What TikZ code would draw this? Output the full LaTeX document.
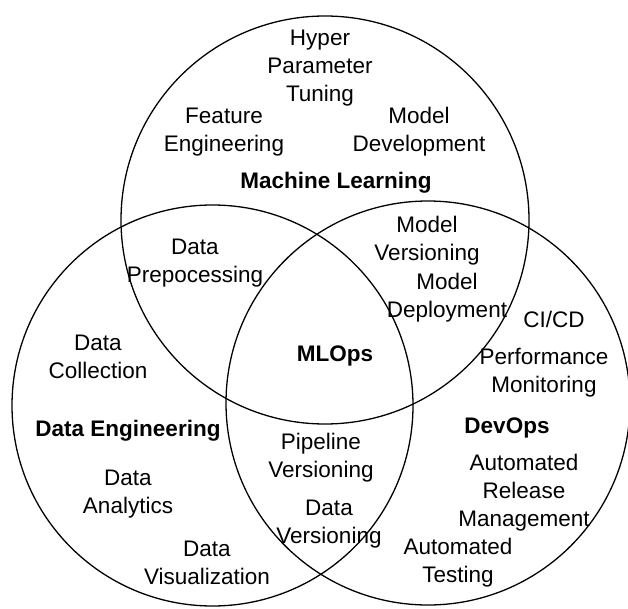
\documentclass[tikz,border=0pt]{standalone}
\usepackage{fontspec}
\setmainfont{Liberation Sans}
\begin{document}
\begin{tikzpicture}[x=1pt,y=-1pt,
  lbl/.style={font=\fontsize{22.5}{28}\selectfont, align=center, inner sep=0pt},
  ttl/.style={font=\fontsize{22.5}{28}\selectfont\bfseries, align=center, inner sep=0pt},
  ring/.style={draw=black, line width=1.3pt}]
\useasboundingbox (0,0) rectangle (628,609);
\clip (0,0) rectangle (628,609);
\fill[white] (0,0) rectangle (628,609);
% circles
\draw[ring] (325,220) circle [radius=204];
\draw[ring] (212.5,405.5) circle [radius=200.5];
\draw[ring] (428,403) circle [radius=202];
% labels
\node[lbl] (hpt) at (320,68) {Hyper\\Parameter\\Tuning};
\node[lbl] (fe) at (224,132) {Feature\\Engineering};
\node[lbl] (md) at (419,132) {Model\\Development};
\node[ttl] (ml) at (336,183) {Machine Learning};
\node[lbl] (dp) at (195,263) {Data\\Prepocessing};
\node[lbl] (mv) at (427,241) {Model\\Versioning};
\node[lbl] (mdep) at (447,298) {Model\\Deployment};
\node[lbl] (cicd) at (554,319) {CI/CD};
\node[lbl] (dc) at (98,357) {Data\\Collection};
\node[ttl] (mlops) at (335,356) {MLOps};
\node[lbl] (pm) at (544,373) {Performance\\Monitoring};
\node[ttl] (de) at (128,431) {Data Engineering};
\node[ttl] (devops) at (507,428) {DevOps};
\node[lbl] (pv) at (321,458) {Pipeline\\Versioning};
\node[lbl] (arm) at (524,493) {Automated\\Release\\Management};
\node[lbl] (da) at (128,494) {Data\\Analytics};
\node[lbl] (dv) at (329,524) {Data\\Versioning};
\node[lbl] (dviz) at (207,563) {Data\\Visualization};
\node[lbl] (at) at (458,563) {Automated\\Testing};
\end{tikzpicture}
\end{document}
